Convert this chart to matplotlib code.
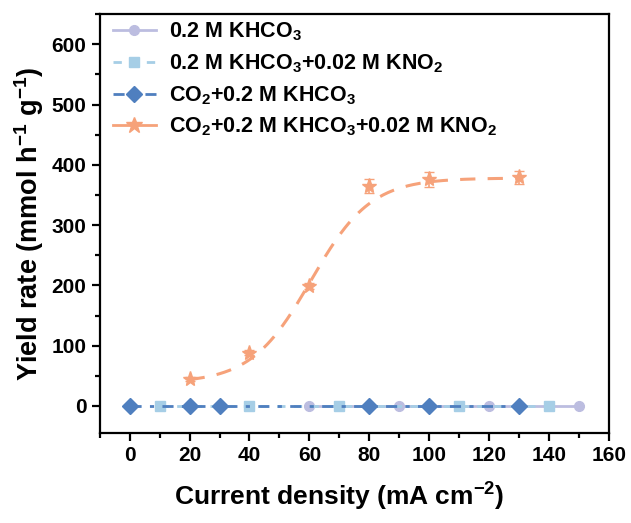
import numpy as np
import matplotlib
matplotlib.use("Agg")
import matplotlib.pyplot as plt
from matplotlib.ticker import MultipleLocator

plt.rcParams['font.family'] = ['Liberation Sans', 'DejaVu Sans']
plt.rcParams['font.weight'] = 'bold'
plt.rcParams['mathtext.fontset'] = 'custom'
plt.rcParams['mathtext.rm'] = 'Liberation Sans:bold'
plt.rcParams['mathtext.bf'] = 'Liberation Sans:bold'
plt.rcParams['mathtext.default'] = 'bf'

# data
x_khco3 = [60, 90, 120, 150]
y_khco3 = [0, 0, 0, 0]
x_kno2 = [10, 40, 70, 110, 140]
y_kno2 = [0, 0, 0, 0, 0]
x_co2 = [0, 20, 30, 80, 100, 130]
y_co2 = [0, 0, 0, 0, 0, 0]
x_co2_kno2 = [20, 40, 60, 80, 100, 130]
y_co2_kno2 = [45, 88, 199, 365, 376, 379]
err_co2_kno2 = [3, 4, 5, 12, 12, 11]

# Boltzmann fit parameters (A1, A2, x0, dx) as drawn in the reference
fit_params = (38, 378, 60.5, 10)

labels = ['0.2 M KHCO$_3$',
          '0.2 M KHCO$_3$+0.02 M KNO$_2$',
          'CO$_2$+0.2 M KHCO$_3$',
          'CO$_2$+0.2 M KHCO$_3$+0.02 M KNO$_2$']
colors = ['#bcbde0', '#a6cee6', '#4f7fbf', '#f6a27a']


def boltzmann(t, a1, a2, x0, dx):
    return a2 + (a1 - a2) / (1 + np.exp((t - x0) / dx))


fig, ax = plt.subplots(figsize=(6.31, 5.23), dpi=100)
fig.subplots_adjust(left=0.158, right=0.965, bottom=0.172, top=0.973)

ax.plot(x_khco3, y_khco3, '-o', color=colors[0], lw=2, ms=7, label=labels[0])
ax.plot(x_kno2, y_kno2, '--s', color=colors[1], lw=2, ms=6.5, dashes=(3, 3), label=labels[1])
ax.plot(x_co2, y_co2, '-.D', color=colors[2], lw=2, ms=8, dashes=(4, 3, 1.5, 3), label=labels[2])

xs = np.linspace(x_co2_kno2[0], x_co2_kno2[-1], 200)
ax.plot(xs, boltzmann(xs, *fit_params), '--', color=colors[3], lw=2.2, dashes=(5, 4), zorder=2)
ax.errorbar(x_co2_kno2, y_co2_kno2, yerr=err_co2_kno2, fmt='*', color=colors[3],
            ms=11, capsize=3.5, elinewidth=1.2, zorder=3)
ax.plot([], [], '-*', color=colors[3], lw=2, ms=12, label=labels[3])

ax.set_xlim(-10, 160)
ax.xaxis.set_major_locator(MultipleLocator(20))
ax.xaxis.set_minor_locator(MultipleLocator(10))
ax.yaxis.set_minor_locator(MultipleLocator(50))
ax.set_yticks(range(0, 700, 100))
ax.set_ylim(-45, 650)

for s in ax.spines.values():
    s.set_linewidth(1.6)
ax.tick_params(which='major', direction='out', length=6, width=1.6, labelsize=15)
ax.tick_params(which='minor', direction='out', length=3.5, width=1.6)
for t in ax.get_xticklabels() + ax.get_yticklabels():
    t.set_fontweight('bold')

ax.set_xlabel('Current density (mA cm$^{-2}$)', fontsize=19, fontweight='bold', labelpad=10)
ax.set_ylabel('Yield rate (mmol h$^{-1}$ g$^{-1}$)', fontsize=19.5, fontweight='bold', labelpad=4)
ax.xaxis.set_label_coords(0.47, -0.115)

ax.legend(loc='upper left', bbox_to_anchor=(0, 1.015), frameon=False, fontsize=15.5,
          handlelength=2, borderaxespad=0.2, labelspacing=0.42, handletextpad=0.6)

plt.savefig('out.png', dpi=100)
